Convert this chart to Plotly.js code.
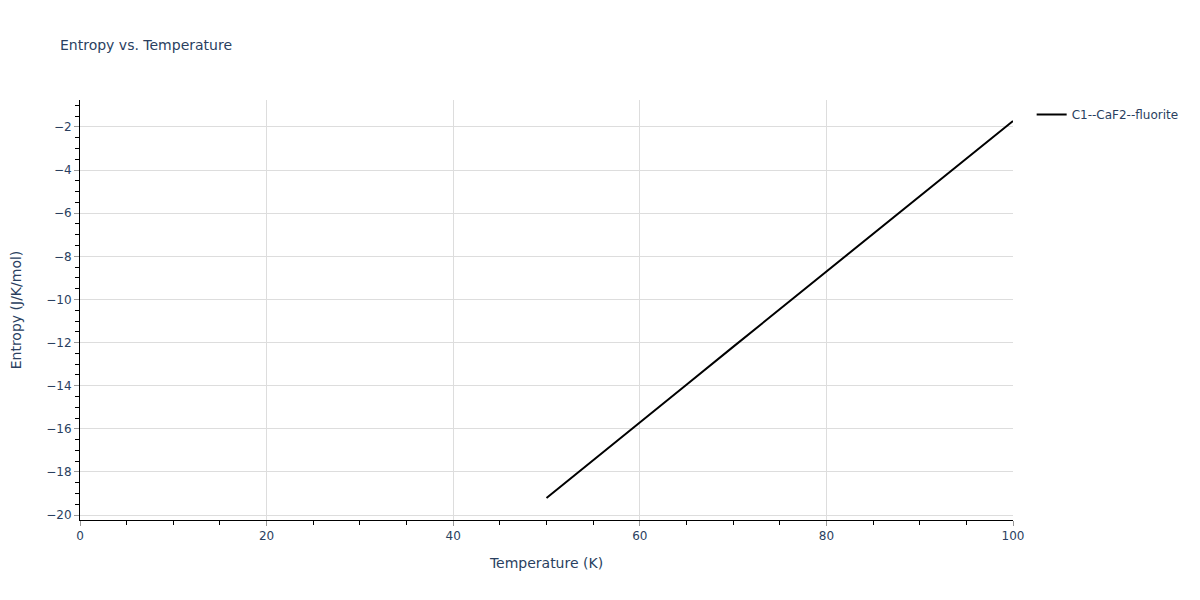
<!DOCTYPE html>
<html>
<head>
<meta charset="utf-8">
<script src="https://cdn.plot.ly/plotly-3.0.1.min.js"></script>
<style>html,body{margin:0;padding:0;background:#fff;}</style>
</head>
<body>
<div id="chart" style="width:1200px;height:600px;"></div>
<script>
const temperature = [50, 55, 60, 65, 70, 75, 80, 85, 90, 95, 100];
const entropy = [-19.21, -17.47, -15.72, -13.96, -12.2, -10.45, -8.7, -6.95, -5.2, -3.45, -1.72];
const seriesName = "C1--CaF2--fluorite";

const trace = {
  x: temperature,
  y: entropy,
  type: "scatter",
  mode: "lines",
  name: seriesName,
  line: {color: "black", width: 2},
  showlegend: true
};

const layout = {
  width: 1200,
  height: 600,
  margin: {l: 80, r: 187, t: 100, b: 80},
  paper_bgcolor: "white",
  plot_bgcolor: "white",
  font: {family: "'DejaVu Sans', Verdana, sans-serif", color: "#2a3f5f", size: 12},
  title: {text: "Entropy vs. Temperature", font: {size: 14}, x: 0.05},
  showlegend: true,
  xaxis: {
    title: {text: "Temperature (K)", font: {size: 14}, standoff: 15},
    automargin: false,
    range: [0, 100],
    dtick: 20,
    showgrid: true,
    gridcolor: "#dddddd",
    showline: true,
    linecolor: "black",
    linewidth: 1,
    ticks: "outside",
    ticklen: 5,
    tickcolor: "#999999",
    zeroline: false,
    minor: {dtick: 5, ticks: "outside", ticklen: 4, tickcolor: "black", showgrid: false}
  },
  yaxis: {
    title: {text: "Entropy (J/K/mol)", font: {size: 14}, standoff: 21},
    automargin: false,
    range: [-20.23, -0.75],
    dtick: 2,
    showgrid: true,
    gridcolor: "#dddddd",
    showline: true,
    linecolor: "black",
    linewidth: 1,
    ticks: "outside",
    ticklen: 5,
    tickcolor: "#999999",
    zeroline: false,
    minor: {dtick: 0.5, ticks: "outside", ticklen: 4, tickcolor: "black", showgrid: false}
  },
  legend: {font: {size: 12}}
};

Plotly.newPlot("chart", [trace], layout, {displayModeBar: false});
</script>
</body>
</html>
